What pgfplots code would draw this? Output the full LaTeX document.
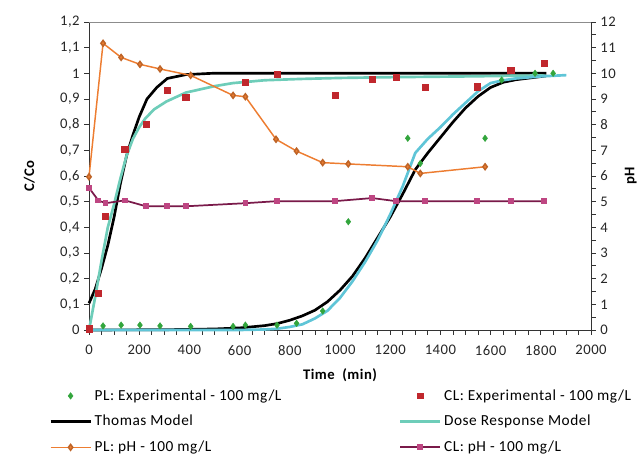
\documentclass[border=0pt]{standalone}
\usepackage{fontspec}
\setmainfont[LetterSpace=3.5]{Carlito}
\usepackage{pgfplots}
\pgfplotsset{compat=1.18}
\definecolor{cgreen}{RGB}{50,165,60}
\definecolor{cred}{RGB}{192,39,45}
\definecolor{cteal}{RGB}{110,205,185}
\definecolor{cblue}{RGB}{95,197,215}
\definecolor{corange}{RGB}{237,125,49}
\definecolor{cpurple}{RGB}{122,26,74}
\definecolor{cpink}{RGB}{190,70,130}
\pgfplotsset{
  base/.style={
    scale only axis, width=376.5pt, height=231pt,
    xmin=0, xmax=2000, clip=false,
    tick label style={font=\fontsize{11}{13}\selectfont, text=black!85},
    label style={font=\fontsize{11}{13}\selectfont\bfseries},
    /pgf/number format/assume math mode=true,
    /pgf/number format/use comma,
    /pgf/number format/1000 sep={},
    tick align=outside,
    major tick length=3.5pt, minor tick length=3.5pt,
    every tick/.style={black!80, line width=0.6pt},
    axis line style={black!80, line width=0.7pt},
    legend image code/.code={\draw[mark repeat=2,mark phase=2,##1] plot coordinates {(0pt,0pt) (15pt,0pt) (30pt,0pt)};},
  }
}
\begin{document}
\begin{tikzpicture}
\begin{axis}[base,
  axis x line*=bottom, axis y line*=left,
  ymin=0, ymax=1.2,
  ytick={0,0.1,0.2,0.3,0.4,0.5,0.6,0.7,0.8,0.9,1,1.1,1.2},
  xtick={0,200,400,600,800,1000,1200,1400,1600,1800,2000},
  minor x tick num=3,
  xticklabel style={yshift=-4.5pt},
  ylabel={C/Co}, xlabel={Time\ \ (min)},
  ylabel shift=12pt, xlabel shift=3pt,
  /pgf/number format/fixed,
]
\coordinate (bl) at (rel axis cs:0,0);
\coordinate (tr) at (rel axis cs:1,1);
\draw[black!45, line width=0.6pt] (rel axis cs:0,1) -- (rel axis cs:1,1);
% PL experimental
\addplot[only marks, mark=diamond*, mark size=2.4pt, color=cgreen] coordinates {
(0,0.005) (56,0.016) (128,0.019) (203,0.019) (283,0.016) (405,0.014) (574,0.014) (623,0.019) (749,0.019) (827,0.026)
(931,0.074) (1033,0.422) (1270,0.747) (1320,0.649) (1578,0.747) (1644,0.974) (1777,1.0) (1849,1.0)};
% CL experimental
\addplot[only marks, mark=square*, mark size=2.4pt, color=cred] coordinates {
(0,0.005) (36,0.143) (66,0.443) (143,0.704) (227,0.801) (311,0.934) (386,0.907) (623,0.965) (749,0.997)
(980,0.914) (1128,0.977) (1223,0.984) (1339,0.945) (1546,0.948) (1681,1.013) (1813,1.039)};
% Thomas CL
\addplot[black, line width=2pt, no marks] coordinates {
(0,0.104) (25,0.16) (50,0.24) (75,0.33) (100,0.44) (125,0.57) (150,0.68) (175,0.76) (200,0.83) (231,0.90) (270,0.945) (312,0.98) (386,0.995) (490,1.0) (1822,1.0)};
% Dose CL
\addplot[cteal, line width=2pt, no marks] coordinates {
(0,0) (25,0.13) (50,0.27) (75,0.40) (100,0.49) (125,0.59) (150,0.68) (175,0.745) (200,0.79) (225,0.825) (260,0.86) (308,0.89) (386,0.925) (500,0.95) (574,0.962) (700,0.973) (840,0.978) (1000,0.982) (1200,0.985) (1500,0.988) (1820,0.992)};
% Thomas PL
\addplot[black, line width=2pt, no marks] coordinates {
(0,0.0) (300,0.001) (500,0.004) (600,0.008) (700,0.017) (750,0.025) (800,0.038) (850,0.055) (900,0.077) (950,0.11) (1000,0.155) (1050,0.21) (1100,0.28) (1150,0.36) (1200,0.44) (1250,0.53) (1300,0.625) (1350,0.69) (1400,0.75) (1450,0.81) (1500,0.865) (1550,0.91) (1600,0.945) (1650,0.965) (1700,0.975) (1822,0.99)};
% Dose PL
\addplot[cblue, line width=2pt, no marks] coordinates {
(0,0) (600,0.0) (700,0.002) (750,0.005) (800,0.012) (850,0.022) (900,0.045) (950,0.075) (1000,0.125) (1050,0.19) (1100,0.265) (1150,0.35) (1200,0.45) (1250,0.56) (1300,0.69) (1350,0.745) (1400,0.79) (1450,0.84) (1500,0.885) (1550,0.93) (1600,0.962) (1650,0.973) (1700,0.98) (1800,0.988) (1902,0.993)};
\end{axis}
\begin{axis}[base,
  axis y line*=right, axis x line=none,
  ymin=0, ymax=12,
  ytick={0,1,2,3,4,5,6,7,8,9,10,11,12},
  minor y tick num=1,
  ylabel={pH},
  legend columns=2,
  legend cell align=left,
  legend style={draw=none, fill=none, at={(axis description cs:0,0)}, anchor=north west,
    xshift=-30pt, yshift=-42.5pt, inner sep=0pt,
    font=\fontsize{11.5}{13}\selectfont,
    row sep=5.8pt,
    /tikz/every even column/.append style={column sep=86pt}},
]
\addlegendimage{only marks, mark=diamond*, mark size=2.4pt, color=cgreen}
\addlegendentry{PL: Experimental - 100 mg/L}
\addlegendimage{only marks, mark=square*, mark size=2.1pt, color=cred}
\addlegendentry{CL: Experimental - 100 mg/L}
\addlegendimage{black, line width=2pt}
\addlegendentry{Thomas Model}
\addlegendimage{cteal, line width=2pt}
\addlegendentry{Dose Response Model}
\addplot[corange, line width=1.1pt, mark=diamond*, mark size=2.2pt, mark options={fill=corange, draw=corange!80!black}] coordinates {
(0,5.97) (56,11.17) (128,10.62) (203,10.35) (283,10.17) (405,9.92) (574,9.14) (623,9.09) (745,7.43) (827,6.97) (931,6.52) (1033,6.47) (1270,6.36) (1320,6.10) (1578,6.36)};
\addlegendentry{PL: pH - 100 mg/L}
\addplot[cpurple, line width=1.3pt, mark=square*, mark size=1.5pt, mark options={fill=cpink, draw=cpink}] coordinates {
(0,5.54) (37,5.05) (66,4.94) (143,5.05) (227,4.82) (311,4.82) (386,4.82) (623,4.94) (749,5.02) (980,5.02) (1128,5.14) (1223,5.02) (1339,5.02) (1546,5.02) (1681,5.02) (1813,5.02)};
\addlegendentry{CL: pH - 100 mg/L}
\end{axis}
\pgfresetboundingbox
\path[use as bounding box] ([shift={(-66.75pt,-93.75pt)}]bl) rectangle ([shift={(35.25pt,16.5pt)}]tr);
\end{tikzpicture}
\end{document}
